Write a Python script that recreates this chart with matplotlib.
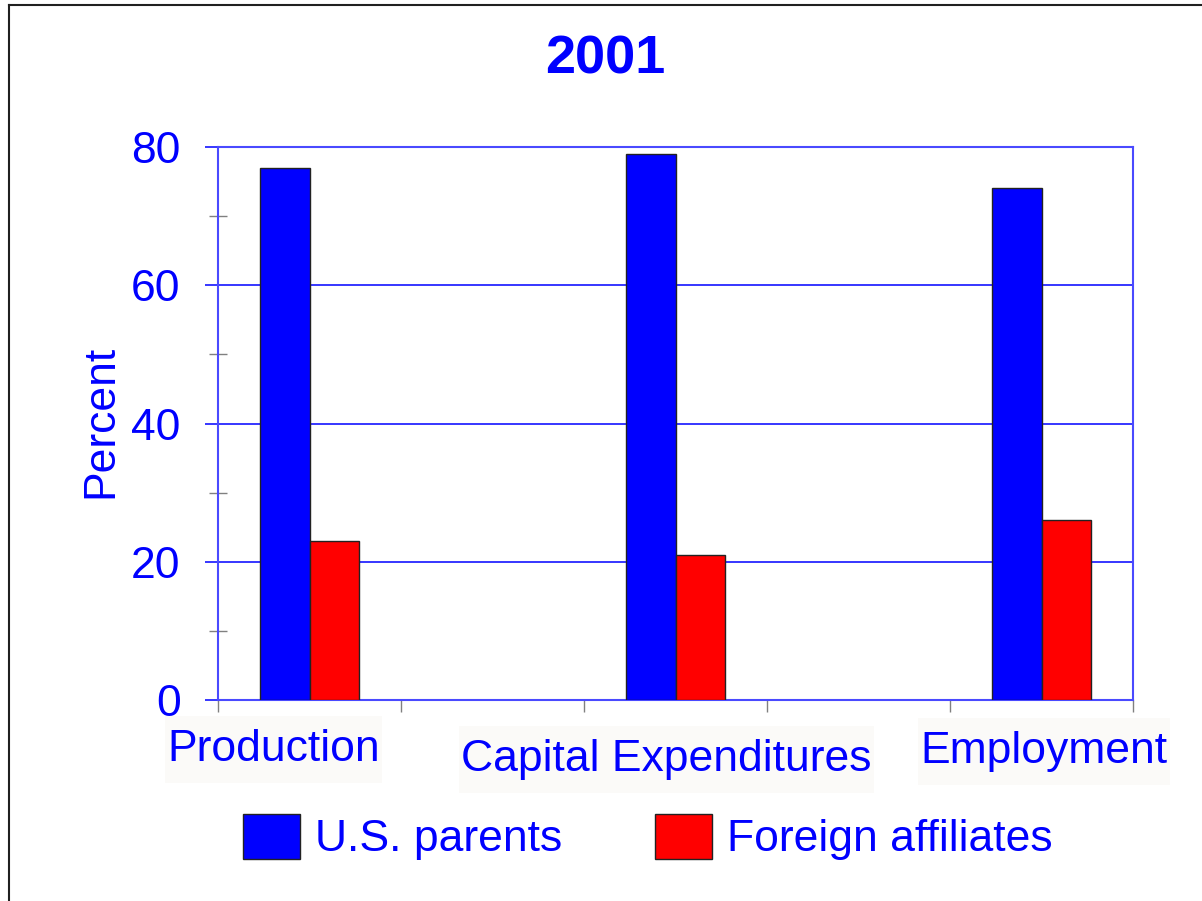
import matplotlib.pyplot as plt
import numpy as np
from matplotlib.lines import Line2D
from matplotlib.path import Path

plt.rcParams['font.family'] = ['Liberation Sans', 'DejaVu Sans']

categories = ['Production', 'Capital Expenditures', 'Employment']
us_parents = [77, 79, 74]
foreign_affiliates = [23, 21, 26]
series_names = ['U.S. parents', 'Foreign affiliates']

BLUE = '#0000ff'
RED = '#ff0000'
GRAY = '#808080'


def label_box(x0, y0, width, height, mutation_size):
    # narrow on the sides, tall top and bottom
    px = 0.05 * mutation_size
    py = 0.29 * mutation_size
    x0, y0 = x0 - px, y0 - py
    x1, y1 = x0 + width + 2 * px, y0 + height + 2 * py
    return Path([(x0, y0), (x1, y0), (x1, y1), (x0, y1), (x0, y0)], closed=True)


fig = plt.figure(figsize=(12.02, 9.01), dpi=100)
ax = fig.add_axes([218 / 1202, 201 / 901, 915 / 1202, 553 / 901])

x = np.arange(len(categories)) * 2 + 0.5
w = 0.273
ax.bar(x - w / 2, us_parents, w, color=BLUE, edgecolor='#222222', linewidth=1, zorder=3, label=series_names[0])
ax.bar(x + w / 2, foreign_affiliates, w, color=RED, edgecolor='#222222', linewidth=1, zorder=3, label=series_names[1])

ax.set_xlim(0, 5)
ax.set_ylim(0, 80)
ax.set_xticks(np.arange(0, 6))
ax.set_xticklabels([])
ax.set_yticks([0, 20, 40, 60, 80])
ax.set_yticks([10, 30, 50, 70], minor=True)
ax.yaxis.grid(True, color=BLUE, linewidth=1.1, zorder=1)
ax.set_axisbelow(True)

for s in ax.spines.values():
    s.set_color('#4a4aff')
    s.set_linewidth(1.5)

ax.tick_params(axis='y', which='major', direction='out', length=9.5, width=1.1, color=BLUE,
               labelcolor=BLUE, labelsize=32, pad=17.5)
ax.tick_params(axis='y', which='minor', direction='inout', length=13, width=1, color=GRAY)
ax.tick_params(axis='x', which='major', direction='out', length=8.6, width=1, color=GRAY)

# category labels with pale boxes
offsets = [(-26, -44), (-6.5, -51), (1.8, -45.5)]
for xi, name, off in zip(x, categories, offsets):
    ax.annotate(name, xy=(xi, 0), xycoords='data', xytext=off, textcoords='offset points',
                ha='center', va='baseline', fontsize=32, color=BLUE, annotation_clip=False,
                bbox=dict(boxstyle=label_box, fc='#fbfaf8', ec='none'))

fig.text(112 / 1202, 1 - 421 / 901, 'Percent', rotation=90, rotation_mode='anchor',
         ha='center', va='baseline', fontsize=32, color=BLUE)
fig.text(605 / 1202, 1 - 74 / 901, '2001', ha='center', va='baseline', fontsize=39,
         fontweight='bold', color=BLUE)

leg = fig.legend(loc='center', bbox_to_anchor=(648 / 1202, 1 - 837 / 901), ncol=2, frameon=False,
                 fontsize=32, handlelength=1.28, handleheight=1.19, handletextpad=0.34,
                 columnspacing=2.09, borderaxespad=0, borderpad=0)
for t in leg.get_texts():
    t.set_color(BLUE)

# outer frame (left and top edges)
fig.add_artist(Line2D([8.5 / 1202, 8.5 / 1202], [0, 1 - 4.5 / 901], transform=fig.transFigure,
                      color='#202020', linewidth=1.5))
fig.add_artist(Line2D([8.5 / 1202, 1], [1 - 4.5 / 901, 1 - 4.5 / 901], transform=fig.transFigure,
                      color='#202020', linewidth=1.5))

fig.savefig('out.png', dpi=100)
